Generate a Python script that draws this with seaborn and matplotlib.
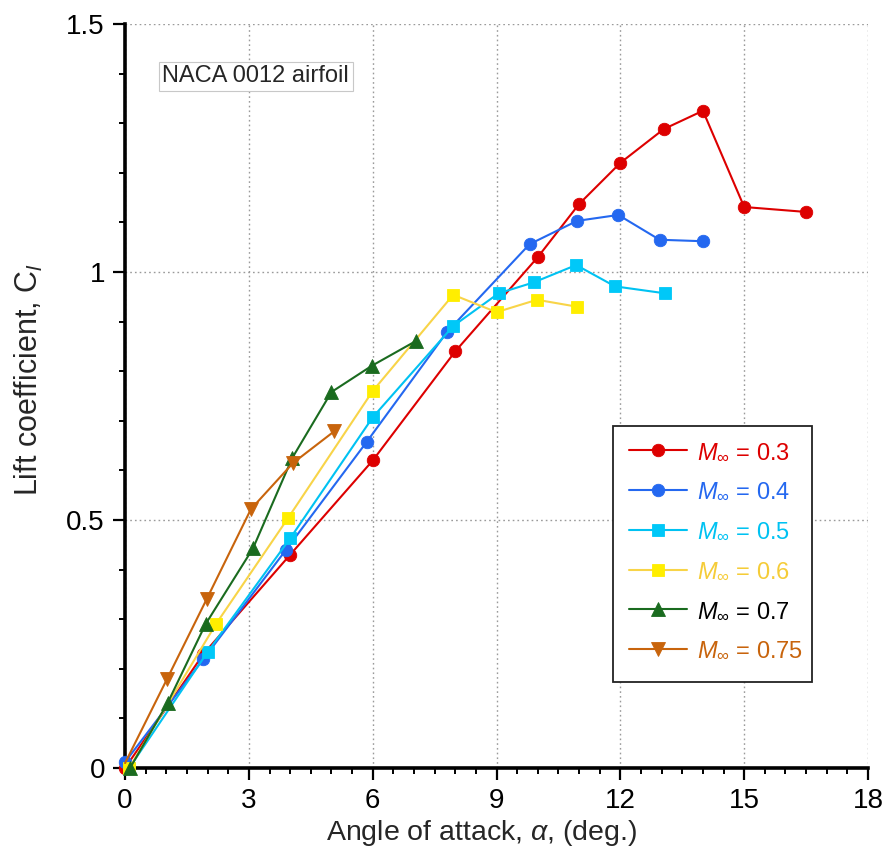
import matplotlib
matplotlib.use("Agg")
import matplotlib.pyplot as plt
from matplotlib.patches import Rectangle
from matplotlib.ticker import MultipleLocator
import pandas as pd
import seaborn as sns

# Lift coefficient vs. angle of attack, NACA 0012, at several free-stream Mach numbers
mach_labels = ["0.3", "0.4", "0.5", "0.6", "0.7", "0.75"]

alpha_m03 = [0.0, 1.9, 4.0, 6.0, 8.0, 10.0, 11.0, 12.0, 13.05, 14.0, 15.0, 16.5]
cl_m03 = [0.0, 0.23, 0.43, 0.62, 0.84, 1.03, 1.137, 1.22, 1.288, 1.325, 1.131, 1.121]

alpha_m04 = [0.0, 1.9, 3.9, 5.85, 7.8, 9.8, 10.95, 11.95, 12.95, 14.0]
cl_m04 = [0.012, 0.22, 0.44, 0.657, 0.879, 1.056, 1.103, 1.115, 1.065, 1.062]

alpha_m05 = [0.1, 2.0, 4.0, 6.0, 7.95, 9.05, 9.9, 10.93, 11.87, 13.08]
cl_m05 = [0.0, 0.234, 0.463, 0.707, 0.891, 0.957, 0.979, 1.014, 0.971, 0.957]

alpha_m06 = [0.1, 2.2, 3.95, 6.0, 7.95, 9.0, 9.98, 10.95]
cl_m06 = [0.0, 0.29, 0.504, 0.760, 0.954, 0.919, 0.944, 0.930]

alpha_m07 = [0.12, 1.03, 1.95, 3.1, 4.05, 5.0, 5.98, 7.05]
cl_m07 = [0.0, 0.131, 0.29, 0.443, 0.625, 0.758, 0.811, 0.861]

alpha_m075 = [0.0, 1.02, 1.98, 3.05, 4.07, 5.07]
cl_m075 = [0.01, 0.18, 0.341, 0.522, 0.615, 0.679]

series_alpha = [alpha_m03, alpha_m04, alpha_m05, alpha_m06, alpha_m07, alpha_m075]
series_cl = [cl_m03, cl_m04, cl_m05, cl_m06, cl_m07, cl_m075]

line_colors = ["#dd0000", "#2468f0", "#00c2f2", "#f8d448", "#1a6b1f", "#c8640c"]
face_colors = ["#dd0000", "#2468f0", "#00c8f8", "#ffee00", "#1a6b1f", "#c8640c"]
text_colors = ["#dd0000", "#2468f0", "#00c2f2", "#f5cc38", "#000000", "#c8640c"]
markers = ["o", "o", "s", "s", "^", "v"]
marker_sizes = [9, 9, 8.5, 8.5, 9.4, 9.6]
# the M=0.75 marker at the origin sits underneath the M=0.4 circle
first_marker = [0, 0, 0, 0, 0, 1]

frames = []
for lab, a, c in zip(mach_labels, series_alpha, series_cl):
    frames.append(pd.DataFrame({"alpha": a, "cl": c, "mach": lab}))
data = pd.concat(frames, ignore_index=True)

sns.set_theme(style="ticks")
plt.rcParams["font.family"] = ["Liberation Sans", "DejaVu Sans"]
plt.rcParams["mathtext.fontset"] = "custom"
plt.rcParams["mathtext.rm"] = "Liberation Sans"
plt.rcParams["mathtext.it"] = "Liberation Sans:italic"

fig = plt.figure(figsize=(8.87, 8.65), dpi=100)
ax = fig.add_axes([0.141, 0.1121, 0.8376, 0.8602])

handles = []
for i, lab in enumerate(mach_labels):
    sub = data[data["mach"] == lab]
    sns.lineplot(data=sub, x="alpha", y="cl", sort=False, estimator=None,
                 color=line_colors[i], linewidth=1.5, marker=markers[i],
                 markersize=marker_sizes[i], markerfacecolor=face_colors[i],
                 markeredgecolor=face_colors[i], markeredgewidth=0.6,
                 markevery=slice(first_marker[i], None),
                 ax=ax, legend=False, zorder=3 + i, clip_on=False)
    handles.append(ax.lines[-1])

ax.set_xlim(0, 18)
ax.set_ylim(0, 1.5)
ax.xaxis.set_major_locator(MultipleLocator(3))
ax.xaxis.set_minor_locator(MultipleLocator(0.5))
ax.yaxis.set_minor_locator(MultipleLocator(0.1))
ax.set_yticks([0, 0.5, 1, 1.5])
ax.set_yticklabels(["0", "0.5", "1", "1.5"])

ax.grid(True, which="major", linestyle=(0, (1.2, 2.2)), color="#9a9a9a", linewidth=1.0)
ax.set_axisbelow(True)

for side in ["top", "right"]:
    ax.spines[side].set_visible(False)
for side in ["left", "bottom"]:
    ax.spines[side].set_linewidth(2.6)
    ax.spines[side].set_color("black")

ax.tick_params(which="major", direction="out", length=8.5, width=1.6,
               labelsize=20, pad=6, colors="black")
ax.tick_params(which="minor", direction="out", length=4.5, width=1.4, colors="black")

ax.set_xlabel(r"Angle of attack, $\alpha$, (deg.)", fontsize=20.5)
ax.xaxis.set_label_coords(0.4805, -0.087)
ax.xaxis.label.set_va("center")
ax.set_ylabel(r"Lift coefficient, C$_{\mathit{l}}$", fontsize=22)
ax.yaxis.set_label_coords(-0.13, 0.5215)
ax.yaxis.label.set_va("center")

ax.text(0.05, 0.930, "NACA 0012 airfoil", transform=ax.transAxes, fontsize=17,
        ha="left", va="center", zorder=10,
        bbox=dict(boxstyle="square,pad=0.15", facecolor="white",
                  edgecolor="#c8c8c8", linewidth=0.8))

# legend frame
ax.add_patch(Rectangle((0.6568, 0.1156), 0.2678, 0.344, transform=ax.transAxes,
                       facecolor="white", edgecolor="#222222", linewidth=1.3,
                       zorder=19, clip_on=False))

leg_labels = [r"$M_\infty$ = " + m for m in mach_labels]
leg = ax.legend(handles, leg_labels, loc="upper left", bbox_to_anchor=(0.678, 0.4385),
                borderaxespad=0, borderpad=0, fontsize=17, frameon=False,
                handlelength=2.45, handletextpad=0.42, labelspacing=0.75,
                numpoints=1)
leg.set_zorder(20)
for txt, col in zip(leg.get_texts(), text_colors):
    txt.set_color(col)

fig.savefig("out.png", dpi=100, facecolor="white")
